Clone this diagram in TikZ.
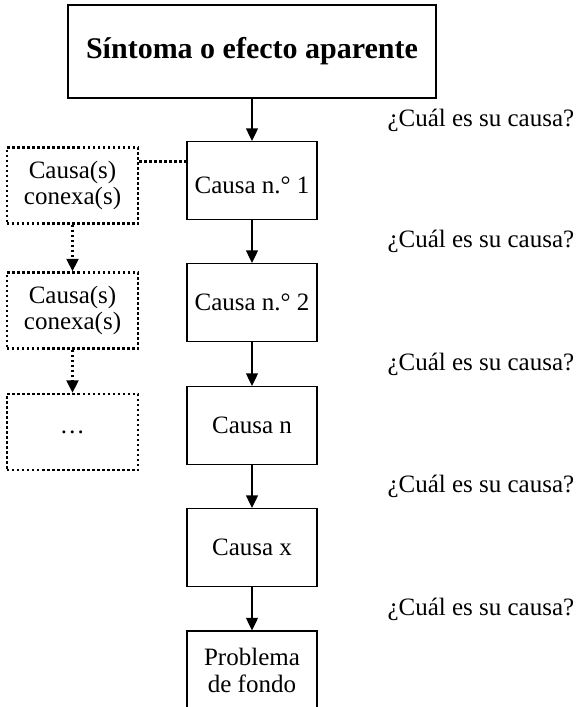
\documentclass[tikz,border=0pt]{standalone}
\usepackage{fontspec}
\setmainfont{Liberation Serif}
\usetikzlibrary{arrows.meta}

\tikzset{
  causa/.style={draw, line width=0.5pt, minimum width=52pt, minimum height=31.2pt,
    inner sep=0pt, align=center, font=\fontsize{10}{10.5}\selectfont},
  conexa/.style={causa, line width=1pt, dash pattern=on 1pt off 1pt,
    minimum width=52.4pt, minimum height=30.4pt},
  flecha/.style={line width=0.5pt, -{Triangle[width=4.8pt,length=5pt]}},
  enlace/.style={line width=1pt, dash pattern=on 1pt off 1pt},
  pregunta/.style={anchor=west, inner sep=0pt, font=\fontsize{10}{12}\selectfont}
}

\begin{document}
\begin{tikzpicture}[x=0.4pt,y=-0.4pt]
  \useasboundingbox (0,0) rectangle (577,707);
  \clip (0,0) rectangle (577,707);

  % cadena principal
  \node[causa, minimum width=147.2pt, minimum height=37.2pt,
        font=\bfseries\fontsize{12}{14}\selectfont] (sintoma) at (252,51.5) {Síntoma o efecto aparente};
  \node[causa, text height=12.4pt, text depth=2.2pt] (c1) at (252,180.5) {Causa n.° 1};
  \node[causa] (c2) at (252,302.5) {Causa n.° 2};
  \node[causa] (cn) at (252,425.5) {Causa n};
  \node[causa] (cx) at (252,547.5) {Causa x};
  \node[causa, minimum height=31.6pt] (fondo) at (252,670.5) {Problema\\de fondo};

  \draw[flecha] (sintoma) -- (c1);
  \draw[flecha] (c1) -- (c2);
  \draw[flecha] (c2) -- (cn);
  \draw[flecha] (cn) -- (cx);
  \draw[flecha] (cx) -- (fondo);

  % preguntas
  \foreach \y/\n in {120/q1,241/q2,364/q3,486/q4,609/q5}
    \node[pregunta] (\n) at (387,\y) {¿Cuál es su causa?};

  % causas conexas
  \node[conexa] (d1) at (72.5,185.5) {Causa(s)\\conexa(s)};
  \node[conexa] (d2) at (72.5,310.5) {Causa(s)\\conexa(s)};
  \node[conexa] (d3) at (72.5,432) {…};

  \coordinate (d1e) at ([yshift=-6pt]d1.north east);
  \draw[enlace] (d1e) -- (c1.west |- d1e);
  \draw[flecha, enlace] (d1) -- (d2);
  \draw[flecha, enlace] (d2) -- (d3);
\end{tikzpicture}
\end{document}
